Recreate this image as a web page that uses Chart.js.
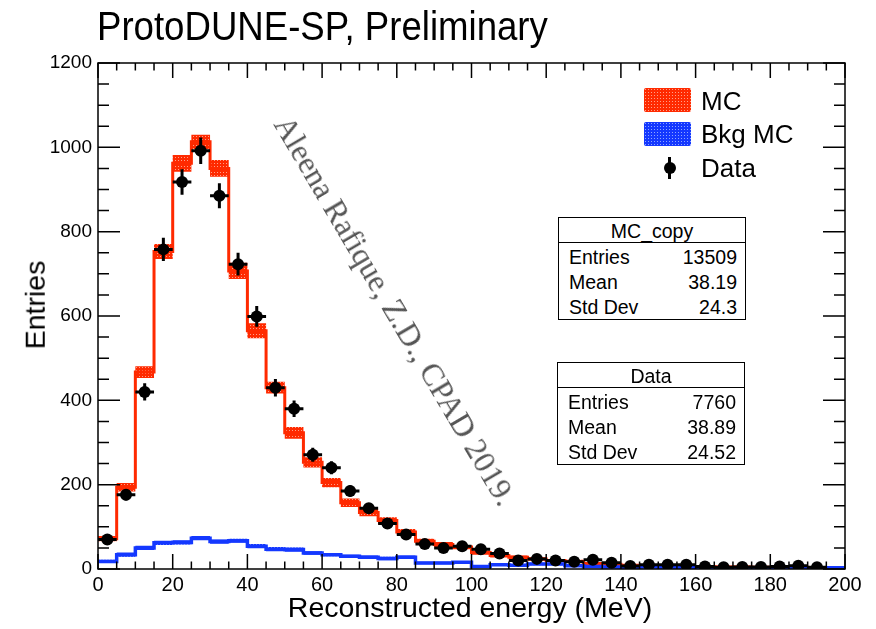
<!DOCTYPE html>
<html>
<head>
<meta charset="utf-8">
<title>ProtoDUNE-SP reconstructed energy</title>
<script src="https://cdn.jsdelivr.net/npm/chart.js@4.4.1/dist/chart.umd.min.js"></script>
<style>
  body { margin: 0; background: #fff; }
  #wrap { position: relative; width: 876px; height: 629px; font-family: "Liberation Sans", Arial, Helvetica, sans-serif; color: #000; }
  #plot { position: absolute; left: 0; top: 0; }
  .t { position: absolute; white-space: nowrap; line-height: 1; }
  #title { left: 97px; top: 6px; font-size: 40px; transform-origin: 0 0; transform: scaleX(0.915); }
  #xtitle { left: 470px; top: 593px; font-size: 28.5px; transform: translateX(-50%); }
  #ytitle { left: 35px; top: 305px; font-size: 28.5px; transform: translate(-50%, -50%) rotate(-90deg); }
  #stamp { left: 395px; top: 311px; font-family: "Liberation Serif", "Times New Roman", serif; font-size: 31.5px; color: #555;
           transform: translate(-50%, -50%) rotate(59.5deg); }
  .swatch { position: absolute; width: 47px; height: 24px; border-radius: 2px; }
  .red  { background: radial-gradient(circle, #ff9f88 35%, transparent 40%) 0 0 / 3px 3px, #ff2a00; }
  .blue { background: radial-gradient(circle, #8fa6ff 35%, transparent 40%) 0 0 / 3px 3px, #1438ff; }
  .leg { font-size: 26px; }
  .stats { position: absolute; border: 1.5px solid #000; background: #fff; font-size: 19.5px; }
  .stats .head { position: absolute; left: 0; right: 0; top: 0; height: 24px; border-bottom: 1.5px solid #000; text-align: center; }
  .stats .head span { position: relative; top: 2px; }
  .stats .row { position: absolute; left: 10px; right: 8px; }
  .stats .row b { font-weight: normal; position: absolute; right: 0; top: 0; }
</style>
</head>
<body>
<div id="wrap">
  <canvas id="plot" width="876" height="629"></canvas>
  <div class="t" id="title">ProtoDUNE-SP, Preliminary</div>
  <div class="t" id="xtitle">Reconstructed energy (MeV)</div>
  <div class="t" id="ytitle">Entries</div>
  <div class="t" id="stamp">Aleena Rafique, Z.D., CPAD 2019.</div>

  <div class="swatch red" style="left:644px; top:88px;"></div>
  <div class="t leg" style="left:701px; top:88px;">MC</div>
  <div class="swatch blue" style="left:644px; top:122px;"></div>
  <div class="t leg" style="left:701px; top:121px;">Bkg MC</div>
  <div style="position:absolute; left:668px; top:157px; width:3px; height:22px; background:#000;"></div>
  <div style="position:absolute; left:663.5px; top:162px; width:12px; height:12px; border-radius:50%; background:#000;"></div>
  <div class="t leg" style="left:701px; top:155px;">Data</div>

  <div class="stats" id="mcStats" style="left:558px; top:217px; width:186px; height:101px;"></div>
  <div class="stats" id="dataStats" style="left:557px; top:362px; width:186px; height:101px;"></div>
</div>

<script>
// Histogram binning (MeV)
const binWidth = 5;
const xMin = 0, xMax = 200;

// Signal MC, scaled to data, one value per 5 MeV bin
const mcValues = [72, 194, 467, 753, 962, 1013, 950, 707, 565, 430,
                  323, 253, 205, 157, 134, 115, 88, 66, 58, 52,
                  39, 32, 28, 24, 20, 18, 13, 11, 9, 8,
                  7, 6, 6, 5, 5, 4, 4, 4, 3, 3];
// MC statistical uncertainty (half height of the hatched band)
const mcErrors = [6, 10, 14, 18, 20, 17, 20, 19, 18, 14,
                  14, 12, 11, 10, 9, 8, 7, 6, 6, 5,
                  5, 5, 4, 4, 4, 4, 3, 3, 3, 3,
                  3, 3, 3, 3, 3, 3, 3, 3, 3, 3];
// Background MC
const bkgValues = [18, 34, 50, 62, 63, 73, 65, 67, 54, 47,
                   46, 38, 34, 30, 28, 25, 28, 14, 14, 16,
                   6, 10, 9, 12, 12, 8, 6, 5, 4, 5,
                   4, 4, 3, 3, 3, 3, 3, 3, 2, 3];
const bkgErrors = [4, 5, 5, 5, 5, 5, 5, 5, 5, 5,
                   5, 4, 4, 4, 4, 4, 4, 3, 3, 3,
                   3, 3, 3, 3, 3, 3, 3, 3, 3, 3,
                   3, 3, 3, 3, 3, 3, 3, 3, 3, 3];
// Data counts (empty last bin)
const dataValues = [70, 176, 420, 758, 918, 992, 885, 723, 599, 430,
                    380, 271, 240, 185, 144, 108, 82, 59, 50, 54,
                    47, 37, 20, 24, 20, 17, 22, 15, 7, 10,
                    10, 10, 6, 4, 5, 5, 6, 8, 4, null];

// Stat box contents
const mcStats = [['Entries', '13509'], ['Mean', '38.19'], ['Std Dev', '24.3']];
const dataStats = [['Entries', '7760'], ['Mean', '38.89'], ['Std Dev', '24.52']];

const binLow = i => xMin + i * binWidth;

// stepped polyline through the bin edges: each bin's value holds from its low edge
function steps(values, shift) {
  const pts = values.map((v, i) => ({ x: binLow(i), y: v + (shift ? shift[i] : 0) }));
  pts.push({ x: xMax, y: pts[pts.length - 1].y });
  return pts;
}
const neg = arr => arr.map(e => -e);

function dotPattern(base, dot) {
  const c = document.createElement('canvas');
  c.width = 3; c.height = 3;
  const g = c.getContext('2d');
  g.fillStyle = base; g.fillRect(0, 0, 3, 3);
  g.fillStyle = dot; g.fillRect(1, 1, 1, 1);
  return g.createPattern(c, 'repeat');
}

function fillStats(el, name, rows) {
  let html = `<div class="head"><span>${name}</span></div>`;
  rows.forEach((r, i) => {
    html += `<div class="row" style="top:${28 + i * 25}px">${r[0]}<b>${r[1]}</b></div>`;
  });
  el.innerHTML = html;
}
fillStats(document.getElementById('mcStats'), 'MC_copy', mcStats);
fillStats(document.getElementById('dataStats'), 'Data', dataStats);

const RED = '#ff2a00', BLUE = '#1438ff';

// sqrt(N) error crosses under the data markers
const errorBars = {
  id: 'errorBars',
  beforeDatasetDraw(chart, args) {
    if (chart.data.datasets[args.index].label !== 'Data') return;
    const { ctx, chartArea: a, scales: { x, y } } = chart;
    ctx.save();
    ctx.beginPath();
    ctx.rect(a.left, a.top, a.right - a.left, a.bottom - a.top);
    ctx.clip();
    ctx.strokeStyle = '#000';
    ctx.lineWidth = 3;
    dataValues.forEach((v, i) => {
      if (v == null) return;
      const lo = binLow(i), c = lo + binWidth / 2, e = Math.sqrt(v);
      const py = y.getPixelForValue(v), px = x.getPixelForValue(c);
      ctx.beginPath();
      ctx.moveTo(x.getPixelForValue(lo), py);
      ctx.lineTo(x.getPixelForValue(lo + binWidth), py);
      ctx.moveTo(px, y.getPixelForValue(v - e));
      ctx.lineTo(px, y.getPixelForValue(v + e));
      ctx.stroke();
    });
    ctx.restore();
  }
};

// ROOT style frame with inward ticks on all four sides
const frame = {
  id: 'frame',
  afterDatasetsDraw(chart) {
    const { ctx, chartArea: a, scales: { x, y } } = chart;
    ctx.save();
    ctx.strokeStyle = '#000';
    ctx.lineWidth = 1.5;
    ctx.strokeRect(a.left, a.top, a.right - a.left, a.bottom - a.top);
    ctx.beginPath();
    for (let v = xMin; v <= xMax; v += 5) {
      const px = x.getPixelForValue(v);
      const len = v % 20 === 0 ? 15 : 7.5;
      ctx.moveTo(px, a.bottom); ctx.lineTo(px, a.bottom - len);
      ctx.moveTo(px, a.top); ctx.lineTo(px, a.top + len);
    }
    for (let v = 0; v <= 1200; v += 50) {
      const py = y.getPixelForValue(v);
      const len = v % 200 === 0 ? 22 : 11;
      ctx.moveTo(a.left, py); ctx.lineTo(a.left + len, py);
      ctx.moveTo(a.right, py); ctx.lineTo(a.right - len, py);
    }
    ctx.stroke();
    ctx.restore();
  }
};

const band = (label, pts, color, fill, order) => ({
  label, data: pts, stepped: 'before', borderWidth: 0, borderColor: 'transparent',
  pointRadius: 0, backgroundColor: color, fill, order
});

new Chart(document.getElementById('plot'), {
  type: 'line',
  data: {
    datasets: [
      band('MC up', steps(mcValues, mcErrors), 'transparent', false, 6),
      band('MC band', steps(mcValues, neg(mcErrors)), dotPattern(RED, '#ff9f88'), 0, 5),
      { label: 'MC', data: steps(mcValues), stepped: 'before', borderColor: RED, borderWidth: 3,
        pointRadius: 0, fill: false, order: 4 },
      band('Bkg up', steps(bkgValues, bkgErrors), 'transparent', false, 3),
      band('Bkg band', steps(bkgValues, neg(bkgErrors)), dotPattern(BLUE, '#8fa6ff'), 3, 2),
      { label: 'Bkg MC', data: steps(bkgValues), stepped: 'before', borderColor: BLUE, borderWidth: 3.5,
        pointRadius: 0, fill: false, order: 1 },
      { label: 'Data', data: dataValues.map((v, i) => ({ x: binLow(i) + binWidth / 2, y: v })),
        showLine: false, pointRadius: 6, pointBackgroundColor: '#000', pointBorderWidth: 0, order: 0 }
    ]
  },
  options: {
    responsive: false,
    animation: false,
    layout: { padding: { left: 0, right: 31, top: 63, bottom: 0 } },
    scales: {
      x: {
        type: 'linear', min: xMin, max: xMax,
        grid: { display: false, drawTicks: false },
        border: { display: false },
        ticks: { stepSize: 20, padding: 4, color: '#000', maxRotation: 0, callback: v => String(v),
                 font: { family: '"Liberation Sans", Arial, sans-serif', size: 20 } },
        afterFit: s => { s.height = 60; }
      },
      y: {
        min: 0, max: 1200,
        grid: { display: false, drawTicks: false },
        border: { display: false },
        ticks: { stepSize: 200, padding: 6, color: '#000', callback: v => String(v),
                 font: { family: '"Liberation Sans", Arial, sans-serif', size: 19 } },
        afterFit: s => { s.width = 98; }
      }
    },
    plugins: { legend: { display: false }, tooltip: { enabled: false } }
  },
  plugins: [errorBars, frame]
});
</script>
</body>
</html>
